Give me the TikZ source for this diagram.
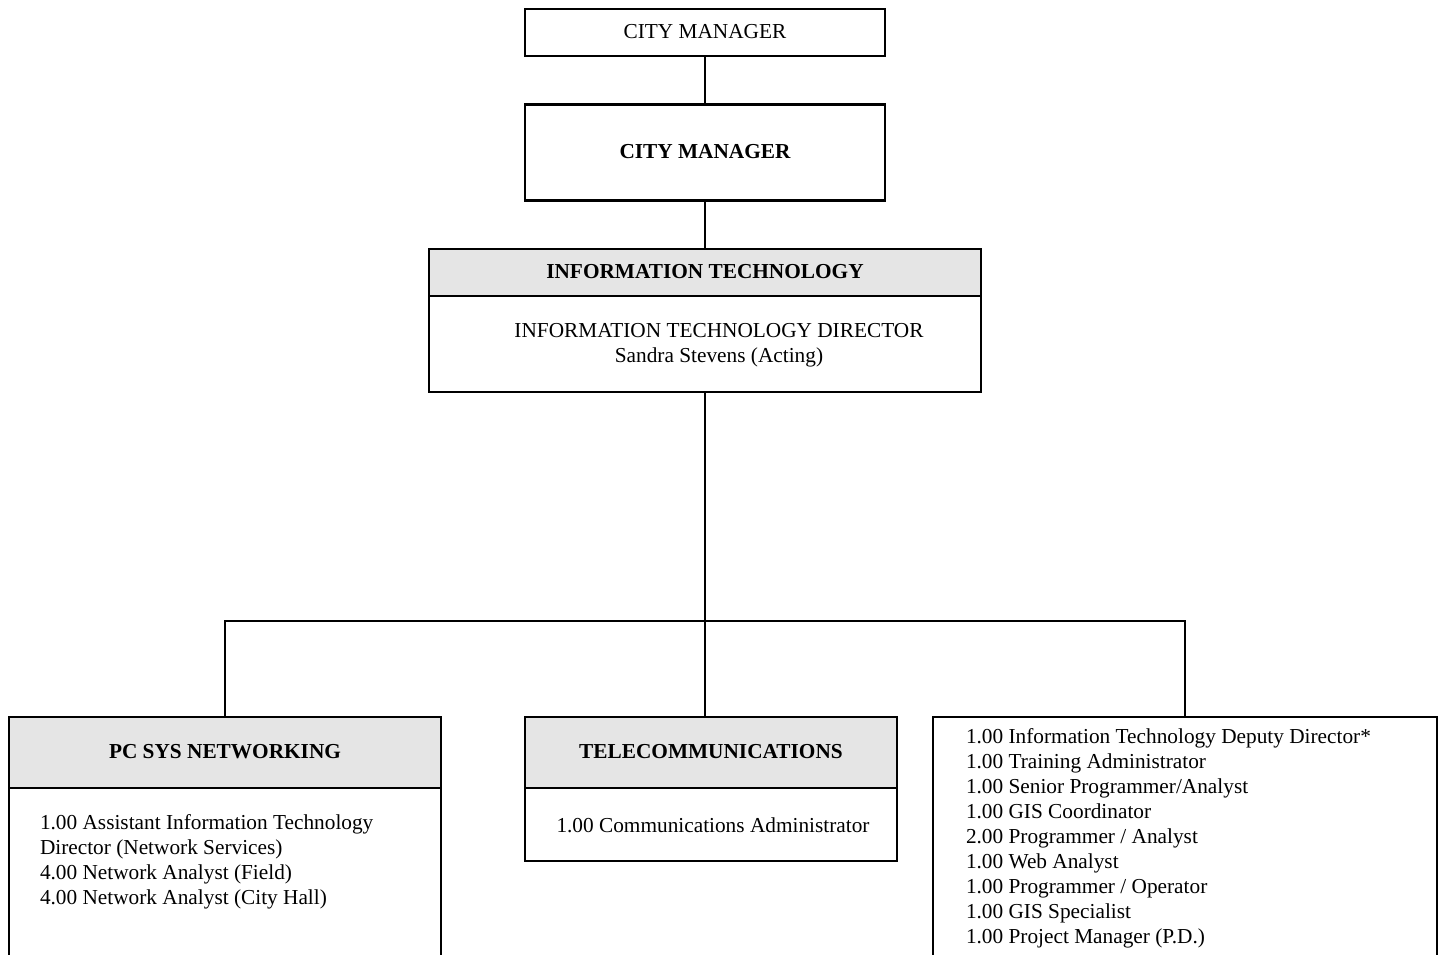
\documentclass[tikz,border=0pt]{standalone}
\usepackage{fontspec}
\setmainfont{Liberation Serif}
\begin{document}
\begin{tikzpicture}[x=1pt,y=-1pt,
  every node/.style={inner sep=0pt,outer sep=0pt},
  line/.style={line width=2.2pt,black},
  box/.style={draw=black,line width=2.2pt,fill=white,rectangle},
  hbox/.style={draw=black,line width=2.2pt,fill=headgray,rectangle},
  txt/.style={font=\fontsize{21.3}{25}\selectfont},
  btxt/.style={font=\fontsize{21.3}{25}\selectfont\bfseries}]
\definecolor{headgray}{HTML}{E5E5E5}
\useasboundingbox (0,0) rectangle (1444,955);
% top boxes
\node[box,minimum width=360pt,minimum height=47pt] (cm1) at (705,32.5) {};
\node[txt] (cm1t) at (705,32) {CITY MANAGER};
\node[box,minimum width=360pt,minimum height=96pt] (cm2) at (705,152.5) {};
\node[btxt] (cm2t) at (705,152) {CITY MANAGER};
% IT
\node[hbox,minimum width=552pt,minimum height=47pt] (ith) at (705,272.5) {};
\node[btxt] (itht) at (705,272) {INFORMATION TECHNOLOGY};
\node[box,minimum width=552pt,minimum height=96pt] (itb) at (705,344) {};
\node[txt,align=center] (itbt) at (719,345) {INFORMATION TECHNOLOGY DIRECTOR\\Sandra Stevens (Acting)};
% PC SYS
\node[hbox,minimum width=432pt,minimum height=71pt] (pch) at (225,752.5) {};
\node[btxt] (pcht) at (225,752) {PC SYS NETWORKING};
\node[box,minimum width=432pt,minimum height=180pt] (pcb) at (225,878) {};
\node[txt,align=left,anchor=base west] (pcbt) at (40,904) {1.00 Assistant Information Technology\\Director (Network Services)\\4.00 Network Analyst (Field)\\4.00 Network Analyst (City Hall)};
% Telecom
\node[hbox,minimum width=372pt,minimum height=71pt] (teh) at (711,752.5) {};
\node[btxt] (teht) at (711,752) {TELECOMMUNICATIONS};
\node[box,minimum width=372pt,minimum height=73pt] (teb) at (711,824.5) {};
\node[txt] (tebt) at (713,825) {1.00 Communications Administrator};
% right box
\node[box,minimum width=504pt,minimum height=260pt,anchor=north] (rb) at (1185,717) {};
\node[txt,align=left,anchor=base west] (rbt) at (966,943) {1.00 Information Technology Deputy Director*\\1.00 Training Administrator\\1.00 Senior Programmer/Analyst\\1.00 GIS Coordinator\\2.00 Programmer / Analyst\\1.00 Web Analyst\\1.00 Programmer / Operator\\1.00 GIS Specialist\\1.00 Project Manager (P.D.)};
% connectors
\coordinate (bus) at (705,621);
\draw[line] (cm1.south) -- (cm2.north);
\draw[line] (cm2.south) -- (ith.north);
\draw[line] (itb.south) -- (bus);
\draw[line] (pch.north) |- (bus) -| (rb.north);
\draw[line] (bus) -- (bus |- teh.north);
\end{tikzpicture}
\end{document}
